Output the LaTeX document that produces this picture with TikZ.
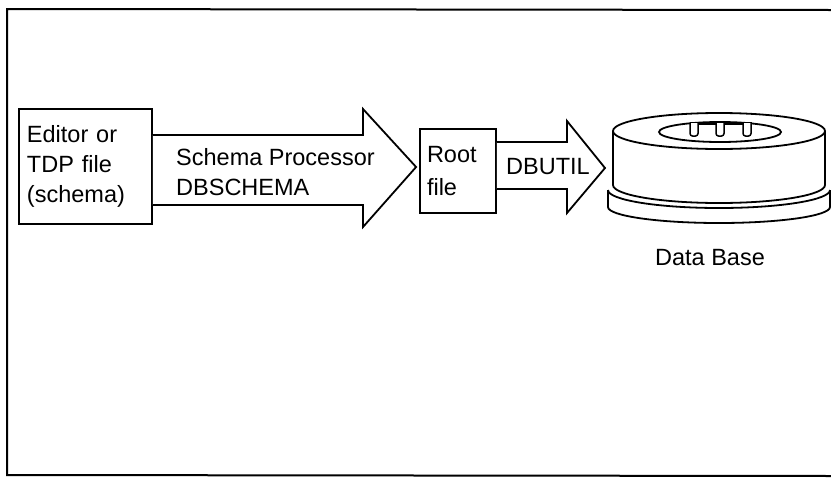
\documentclass[tikz,border=0pt]{standalone}
\usepackage{fontspec}
\setmainfont{Liberation Sans}
\begin{document}
\begin{tikzpicture}[x=1pt,y=-1pt,
  ink/.style={line width=1.8pt, line join=miter},
  filebox/.style={ink, draw, align=left, inner ysep=0pt, anchor=center},
  lbl/.style={inner sep=0pt, align=left, font=\fontsize{23.5}{30}\selectfont},
  blockarrow/.style={ink, draw, fill=white}]
\useasboundingbox (0,0) rectangle (831,488);

% outer frame (open on the right)
\draw[line width=2pt] (831,10) -- (7,9) -- (7,475) -- (831,476);

% source file box
\node[filebox, text width=117pt, inner xsep=8pt, minimum height=115pt,
      font=\fontsize{23.5}{30}\selectfont] (ed) at (85.5,166.5)
  {Editor or\\TDP file\\(schema)};

% root file box
\node[filebox, text width=62pt, inner xsep=7pt, minimum height=84pt,
      font=\fontsize{23.5}{33}\selectfont] (root) at (458,171)
  {Root\\file};

% schema processor block arrow
\draw[blockarrow] (ed.east |- 0,135) -- (363,135) -- (363,109)
  -- ([xshift=-3pt,yshift=4pt]root.west) -- (363,227) -- (363,205) -- (ed.east |- 0,205);
\node[lbl, anchor=west] (sp) at (176,172) {Schema Processor\\DBSCHEMA};

% data base disk pack
\coordinate (db) at (719,131);
\coordinate (dbw) at (605,168);
% base plate
\draw[ink] (608,190) -- (608,207)
  arc[start angle=180, end angle=360, x radius=111pt, y radius=16pt] -- (830,190);
\draw[ink] (608,190) arc[start angle=180, end angle=360, x radius=111pt, y radius=18pt];
% body
\draw[ink, fill=white] (613,131) -- (613,185)
  arc[start angle=180, end angle=360, x radius=106pt, y radius=18pt] -- (825,131);
\draw[ink] (db) ellipse[x radius=106pt, y radius=18pt];
% centre hole and spindle
\draw[ink] (720,132) ellipse[x radius=61pt, y radius=10pt];
\draw[line width=3pt] (690,123) -- (752,123);
\foreach \tx in {690,716,743}
  \draw[line width=1.5pt, fill=white, rounded corners=2.5pt]
    (\tx,123) -- (\tx,136) -- (\tx+8,136) -- (\tx+8,123);
\node[lbl] (dblabel) at (710,258) {Data Base};

% DBUTIL block arrow
\draw[blockarrow] (root.east |- 0,142) -- (567,142) -- (567,121)
  -- (dbw) -- (567,213) -- (567,189) -- (root.east |- 0,189);
\node[lbl] (util) at (548,167) {DBUTIL};
\end{tikzpicture}
\end{document}
